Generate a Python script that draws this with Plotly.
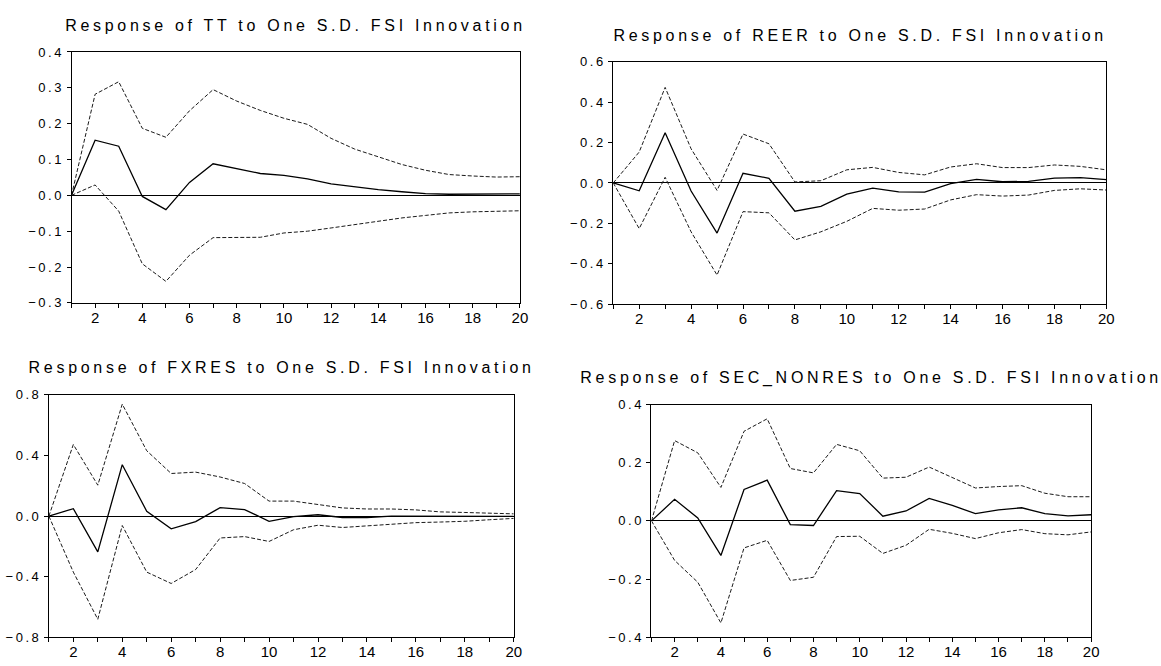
import plotly.graph_objects as go

W, H = 1161, 666

periods = list(range(1, 21))
x_tick_vals = list(range(1, 21))
x_tick_text = [str(v) if v % 2 == 0 else "" for v in x_tick_vals]

titles = [
    "Response of TT to One S.D. FSI Innovation",
    "Response of REER to One S.D. FSI Innovation",
    "Response of FXRES to One S.D. FSI Innovation",
    "Response of SEC_NONRES to One S.D. FSI Innovation",
]

tt_resp = [0, 0.154, 0.137, -0.003, -0.040, 0.036, 0.088, 0.075, 0.061, 0.056,
           0.046, 0.032, 0.023, 0.016, 0.010, 0.005, 0.003, 0.003, 0.003, 0.004]
tt_upper = [0, 0.282, 0.317, 0.187, 0.162, 0.236, 0.295, 0.263, 0.237, 0.215,
            0.198, 0.159, 0.129, 0.107, 0.086, 0.070, 0.058, 0.054, 0.051, 0.052]
tt_lower = [0, 0.029, -0.044, -0.191, -0.240, -0.167, -0.118, -0.117, -0.117, -0.105,
            -0.100, -0.091, -0.081, -0.071, -0.063, -0.056, -0.049, -0.046, -0.044, -0.043]

reer_resp = [0, -0.039, 0.248, -0.040, -0.248, 0.048, 0.023, -0.140, -0.116, -0.055,
             -0.026, -0.044, -0.045, -0.003, 0.018, 0.006, 0.008, 0.024, 0.026, 0.016]
reer_upper = [0, 0.153, 0.473, 0.169, -0.037, 0.242, 0.194, 0.005, 0.011, 0.065,
              0.077, 0.052, 0.040, 0.079, 0.095, 0.076, 0.076, 0.089, 0.082, 0.065]
reer_lower = [0, -0.226, 0.028, -0.242, -0.456, -0.142, -0.148, -0.282, -0.242, -0.190,
              -0.126, -0.135, -0.129, -0.084, -0.058, -0.065, -0.060, -0.037, -0.029, -0.035]

fx_resp = [0, 0.049, -0.236, 0.339, 0.032, -0.084, -0.036, 0.056, 0.043, -0.034,
           -0.004, 0.009, -0.009, -0.009, 0.000, 0.000, -0.004, -0.004, -0.002, -0.002]
fx_upper = [0, 0.472, 0.204, 0.738, 0.431, 0.281, 0.290, 0.258, 0.215, 0.099,
            0.099, 0.077, 0.054, 0.047, 0.047, 0.041, 0.028, 0.024, 0.019, 0.015]
fx_lower = [0, -0.369, -0.680, -0.062, -0.369, -0.444, -0.352, -0.144, -0.135, -0.167,
            -0.090, -0.060, -0.075, -0.064, -0.052, -0.043, -0.039, -0.034, -0.024, -0.015]

sec_resp = [0, 0.074, 0.010, -0.119, 0.108, 0.140, -0.013, -0.016, 0.104, 0.094,
            0.016, 0.034, 0.077, 0.053, 0.025, 0.038, 0.045, 0.025, 0.017, 0.021]
sec_upper = [0, 0.276, 0.234, 0.115, 0.308, 0.351, 0.180, 0.165, 0.263, 0.241,
             0.147, 0.150, 0.185, 0.150, 0.113, 0.118, 0.121, 0.095, 0.083, 0.083]
sec_lower = [0, -0.136, -0.211, -0.351, -0.093, -0.067, -0.205, -0.194, -0.054, -0.053,
             -0.112, -0.084, -0.029, -0.043, -0.061, -0.041, -0.030, -0.044, -0.048, -0.038]

y_ranges = [(-0.3, 0.4), (-0.6, 0.6), (-0.8, 0.8), (-0.4, 0.4)]
y_dticks = [0.1, 0.2, 0.4, 0.2]

series = [
    (tt_resp, tt_upper, tt_lower),
    (reer_resp, reer_upper, reer_lower),
    (fx_resp, fx_upper, fx_lower),
    (sec_resp, sec_upper, sec_lower),
]

# plot-area boxes in pixels: (left, right, top, bottom)
boxes = [
    (72, 523.5, 46, 302.7),
    (617.5, 1114, 56, 304),
    (49.2, 517.3, 396.7, 645),
    (656, 1098.7, 406.7, 644.7),
]
title_pos = [(298, 18.5), (866, 29.5), (283, 368.5), (877, 379.5)]

fig = go.Figure()
font_family = "Liberation Sans, Arial, sans-serif"

for i, ((resp, up, lo), (l, r, t, b)) in enumerate(zip(series, boxes)):
    n = i + 1
    xa = "x" if n == 1 else f"x{n}"
    ya = "y" if n == 1 else f"y{n}"
    for vals, dash, width, color in [(up, "4px,2px", 1, "#1a1a1a"), (lo, "4px,2px", 1, "#1a1a1a"),
                                     (resp, "solid", 1.3, "black")]:
        fig.add_trace(go.Scatter(x=periods, y=vals, mode="lines", xaxis=xa, yaxis=ya,
                                 line=dict(color=color, width=width, dash=dash),
                                 showlegend=False, hoverinfo="skip"))
    xkey = "xaxis" if n == 1 else f"xaxis{n}"
    ykey = "yaxis" if n == 1 else f"yaxis{n}"
    fig.layout[xkey] = dict(
        domain=[l / W, r / W], anchor=ya, range=[1, 20],
        tickmode="array", tickvals=x_tick_vals, ticktext=x_tick_text,
        ticks="outside", ticklen=4, tickcolor="black", tickwidth=1,
        showline=True, linecolor="black", linewidth=1, mirror=True,
        showgrid=False, zeroline=False, ticklabelstandoff=-3,
        tickfont=dict(family=font_family, size=15, color="black"),
    )
    y0, y1 = y_ranges[i]
    fig.layout[ykey] = dict(
        domain=[1 - b / H, 1 - t / H], anchor=xa, range=[y0, y1],
        tick0=0, dtick=y_dticks[i], tickformat=".1f",
        ticks="outside", ticklen=4, tickcolor="black", tickwidth=1,
        showline=True, linecolor="black", linewidth=1, mirror=True,
        showgrid=False, zeroline=True, zerolinecolor="black", zerolinewidth=1,
        tickfont=dict(family=font_family, size=13, color="black"),
    )
    tx, ty = title_pos[i]
    fig.add_annotation(text=titles[i], x=tx / W, y=1 - ty / H, xref="paper", yref="paper",
                       xanchor="center", yanchor="middle", showarrow=False,
                       font=dict(family=font_family, size=16, color="black"))

fig.update_layout(width=W, height=H, margin=dict(l=0, r=0, t=0, b=0),
                  paper_bgcolor="white", plot_bgcolor="white")

post_js = """
var gd = document.getElementById('{plot_id}');
function spaceText(){
  gd.querySelectorAll('.annotation-text').forEach(function(e){ e.style.letterSpacing='3.7px'; });
  gd.querySelectorAll('.yaxislayer-above text').forEach(function(e){ e.style.letterSpacing='2.5px'; });
}
spaceText();
gd.on('plotly_afterplot', spaceText);
"""

fig.write_html("out.html", post_script=post_js)
